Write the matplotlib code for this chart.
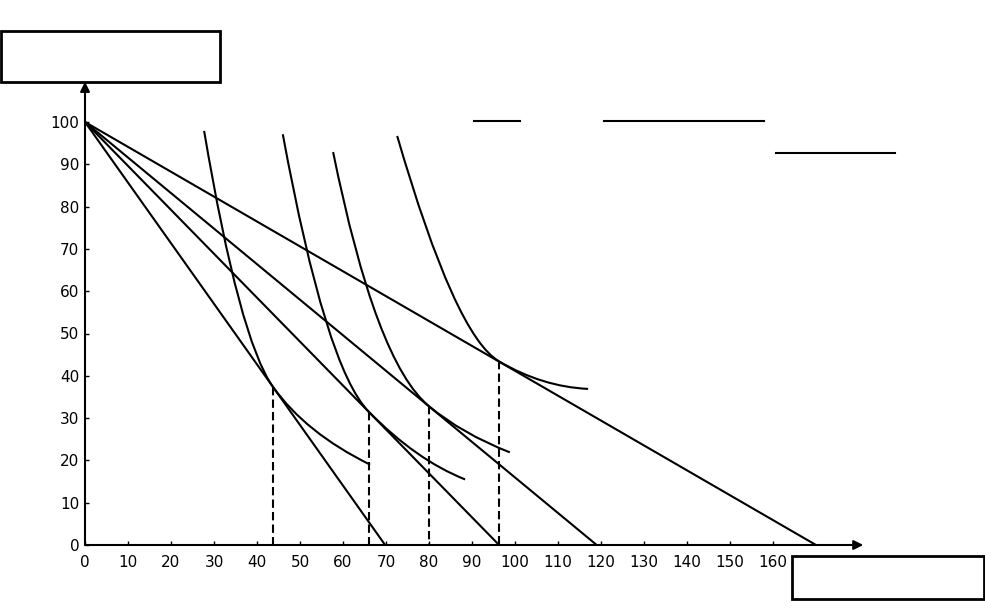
import matplotlib
matplotlib.use("Agg")
import matplotlib.pyplot as plt
from matplotlib.path import Path
from matplotlib.patches import PathPatch, Rectangle
from matplotlib.lines import Line2D

# budget lines all start at (0, 100) and end at these x-intercepts
budget_top = 100
budget_ends = [69.8, 96.3, 119.0, 170.0]

# points of tangency (dashed drop lines go down from here)
tangent_x = [43.7, 66.0, 80.0, 96.3]
tangent_y = [37.4, 31.5, 32.8, 43.4]

# indifference curves: start, control, tangency, control, end
ic1 = [(27.7, 97.9), (35.9, 48.5), (43.7, 37.4), (51.3, 26.5), (66.3, 19.0)]
ic2 = [(46.0, 97.1), (56.0, 41.8), (66.0, 31.5), (77.0, 20.1), (88.4, 15.5)]
ic3 = [(57.7, 92.9), (67.6, 43.2), (80.0, 32.8), (87.7, 26.3), (98.8, 21.9)]
ic4 = [(72.6, 96.7), (86.1, 49.4), (96.3, 43.4), (106.4, 37.4), (117.0, 36.9)]

x_ticks = list(range(0, 170, 10))
y_ticks = list(range(0, 110, 10))

W, H = 985, 613
X0, SX = 85, 4.3      # pixel of x=0, pixels per unit
Y0, SY = 545, 4.23

fig = plt.figure(figsize=(W / 100, H / 100), dpi=100)
ax = fig.add_axes([0, 0, 1, 1])
ax.set_xlim(-X0 / SX, (W - X0) / SX)
ax.set_ylim(-(H - Y0) / SY, Y0 / SY)

lw = 1.5
k = "black"

# axes with arrows
for s in ax.spines.values():
    s.set_visible(False)
ax.spines["left"].set_position(("data", 0))
ax.spines["bottom"].set_position(("data", 0))
ax.annotate("", xy=(181, 0), xytext=(0, 0),
            arrowprops=dict(arrowstyle="-|>", lw=lw, color=k, mutation_scale=14,
                            shrinkA=0, shrinkB=0))
ax.annotate("", xy=(0, 109.5), xytext=(0, 0),
            arrowprops=dict(arrowstyle="-|>", lw=lw, color=k, mutation_scale=14,
                            shrinkA=0, shrinkB=0))

ax.set_xticks(x_ticks)
ax.set_xticklabels([str(v) for v in x_ticks])
ax.set_yticks(y_ticks)
ax.set_yticklabels([str(v) for v in y_ticks])
ax.tick_params(axis="x", direction="in", length=3, width=1, pad=7, labelsize=11)
ax.tick_params(axis="y", direction="in", length=3, width=1, pad=4, labelsize=11)

# budget lines
for xe in budget_ends:
    ax.plot([0, xe], [budget_top, 0], color=k, lw=lw, solid_capstyle="round")

# indifference curves as bezier paths
codes = [Path.MOVETO, Path.CURVE3, Path.CURVE3, Path.CURVE3, Path.CURVE3]
for pts in [ic1, ic2, ic3, ic4]:
    ax.add_patch(PathPatch(Path(pts, codes), fill=False, lw=lw, edgecolor=k))

# dashed drop lines
for tx, ty in zip(tangent_x, tangent_y):
    ax.plot([tx, tx], [ty, 0], color=k, lw=lw, linestyle=(0, (4, 2)))

# empty label boxes and blank underlines (pixel positions)
def fx(px):
    return px / W

def fy(py):
    return 1 - py / H

fig.add_artist(Rectangle((fx(1), fy(82)), fx(220) - fx(1), fy(31) - fy(82),
                         transform=fig.transFigure, fill=False, lw=2, edgecolor=k))
fig.add_artist(Rectangle((fx(792), fy(599)), fx(984) - fx(792), fy(556) - fy(599),
                         transform=fig.transFigure, fill=False, lw=2, edgecolor=k))
for x1, x2, yy in [(474, 520, 121), (604, 764, 121), (776, 895, 153)]:
    fig.add_artist(Line2D([fx(x1), fx(x2)], [fy(yy), fy(yy)],
                          transform=fig.transFigure, lw=1.5, color=k))

fig.savefig("out.png", dpi=100)
